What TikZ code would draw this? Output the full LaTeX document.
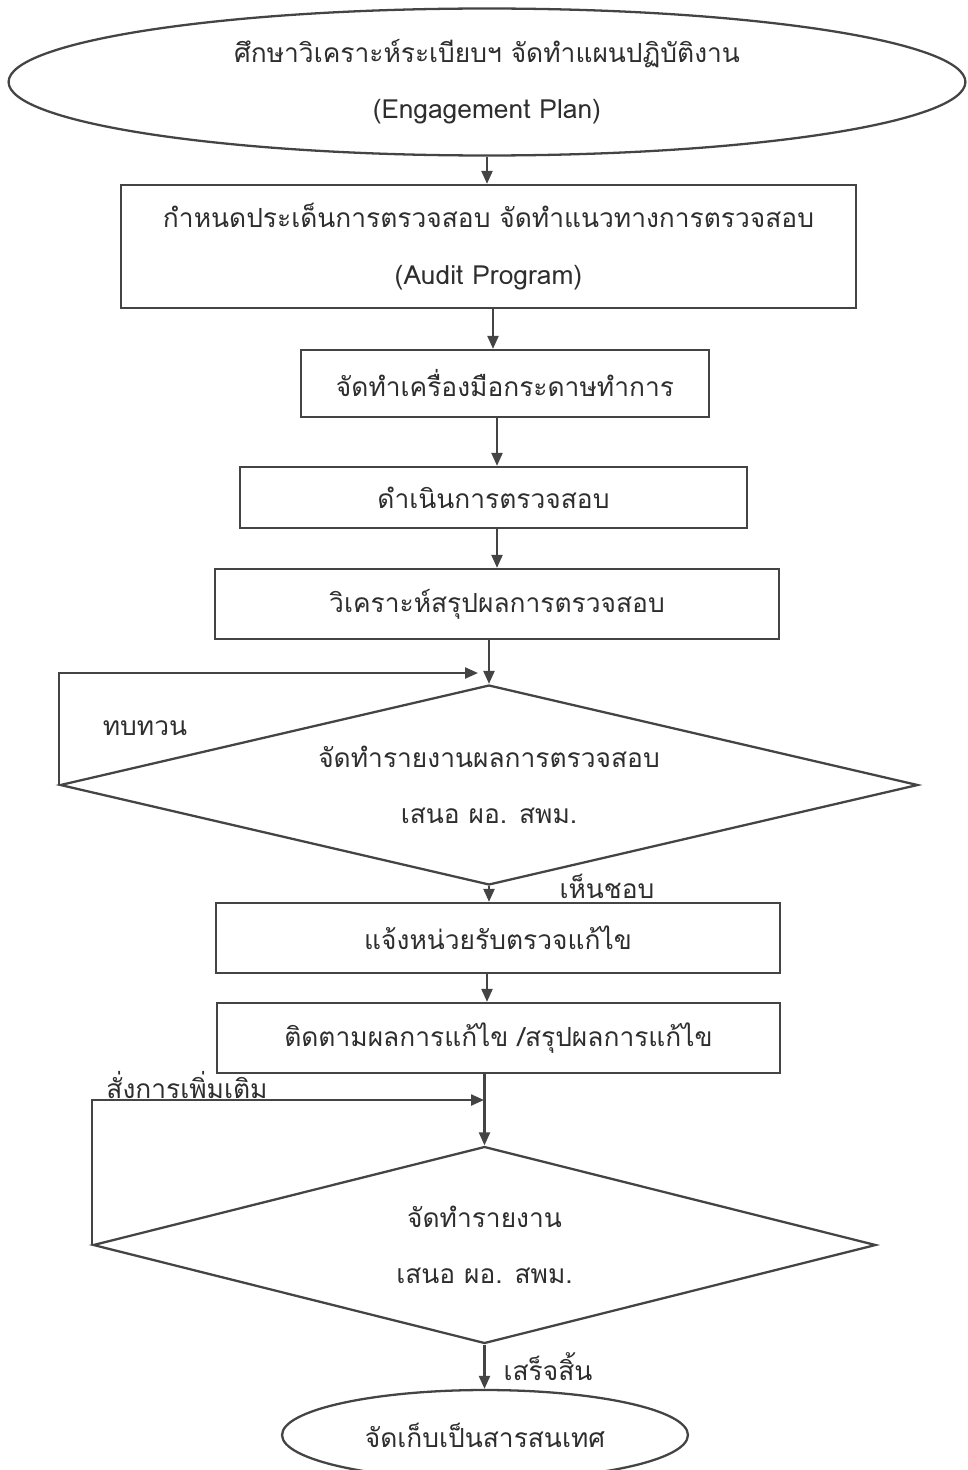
\documentclass[tikz,border=0pt]{standalone}
\usepackage{fontspec}
\newfontfamily\thaifont[Script=Thai]{Loma}
\usepackage{xcolor}
\usepackage{tikz}
\usetikzlibrary{
    positioning,
    arrows.meta,
    shapes.geometric,
    calc
}
\definecolor{linegray}{HTML}{444444}
\definecolor{textgray}{HTML}{2E2E2E}
\tikzset{
    stepbox/.style={
        rectangle, draw=linegray, line width=1.3pt,
        align=center, inner sep=0pt,
        font=\thaifont\fontsize{15}{32}\selectfont, text=textgray
    },
    terminal/.style={
        ellipse, draw=linegray, line width=1.3pt,
        align=center, inner sep=0pt,
        font=\thaifont\fontsize{15}{32}\selectfont, text=textgray
    },
    decision/.style={
        diamond, draw=linegray, line width=1.3pt,
        align=center, inner sep=0pt, aspect=4.2,
        font=\thaifont\fontsize{15}{32}\selectfont, text=textgray
    },
    arrow/.style={
        -{Triangle[length=0.26cm, width=0.22cm]}, line width=1.3pt, draw=linegray
    },
    flowlabel/.style={
        font=\thaifont\fontsize{15}{18}\selectfont, text=textgray, inner sep=0pt
    }
}

\begin{document}
\begin{tikzpicture}[x=0.02cm, y=-0.02cm]

    % FRAME
    \useasboundingbox (0,0) rectangle (967,1470);

    % PLANNING
    \node[terminal, minimum width=19.14cm, minimum height=2.94cm] (plan) at (487,82)
        {ศึกษาวิเคราะห์ระเบียบฯ จัดทำแผนปฏิบัติงาน\\(Engagement Plan)};
    \node[stepbox, minimum width=14.7cm, minimum height=2.46cm] (program) at (488.5,246.5)
        {กำหนดประเด็นการตรวจสอบ จัดทำแนวทางการตรวจสอบ\\(Audit Program)};
    \node[stepbox, minimum width=8.16cm, minimum height=1.34cm] (tools) at (505,383.5)
        {จัดทำเครื่องมือกระดาษทำการ};

    % FIELDWORK
    \node[stepbox, minimum width=10.14cm, minimum height=1.22cm] (audit) at (493.5,497.5)
        {ดำเนินการตรวจสอบ};
    \node[stepbox, minimum width=11.28cm, minimum height=1.4cm] (analyse) at (497,604)
        {วิเคราะห์สรุปผลการตรวจสอบ};
    \node[decision, minimum width=17.16cm, minimum height=4cm] (report) at (489,785)
        {จัดทำรายงานผลการตรวจสอบ\\เสนอ ผอ. สพม.};

    % FOLLOW UP
    \node[stepbox, minimum width=11.28cm, minimum height=1.4cm] (notify) at (498,938)
        {แจ้งหน่วยรับตรวจแก้ไข};
    \node[stepbox, minimum width=11.26cm, minimum height=1.4cm] (follow) at (498.5,1038)
        {ติดตามผลการแก้ไข /สรุปผลการแก้ไข};
    \node[decision, minimum width=15.66cm, minimum height=3.94cm] (final) at (484.5,1245)
        {จัดทำรายงาน\\เสนอ ผอ. สพม.};
    \node[terminal, minimum width=8.12cm, minimum height=1.8cm] (archive) at (485,1435)
        {จัดเก็บเป็นสารสนเทศ};

    % Loop ends
    \coordinate (review_in) at (478,673);
    \coordinate (extra_in) at (484,1100);

    % Connections
    \draw[arrow] (plan.south) -- (plan.south |- program.north);
    \draw[arrow] (program.south -| 493,0) -- (tools.north -| 493,0);
    \draw[arrow] (tools.south -| 497,0) -- (audit.north -| 497,0);
    \draw[arrow] (audit.south -| 497,0) -- (analyse.north -| 497,0);
    \draw[arrow] (analyse.south -| report.north) -- (report.north);
    \draw[arrow] (report.south) -- (report.south |- notify.north);
    \draw[arrow] (notify.south -| 487,0) -- (follow.north -| 487,0);
    \draw[arrow] (follow.south -| final.north) -- (final.north);
    \draw[arrow] (final.south) -- (final.south |- archive.north);

    % Loops back
    \draw[arrow] (report.west) |- (review_in);
    \draw[arrow] (final.west) |- (extra_in);

    % Labels
    \node[flowlabel] (lbl_review) at (145,728) {ทบทวน};
    \node[flowlabel, anchor=base] (lbl_ok) at (607,898) {เห็นชอบ};
    \node[flowlabel, anchor=base] (lbl_extra) at (187,1098) {สั่งการเพิ่มเติม};
    \node[flowlabel] (lbl_done) at (548,1367) {เสร็จสิ้น};

\end{tikzpicture}
\end{document}
